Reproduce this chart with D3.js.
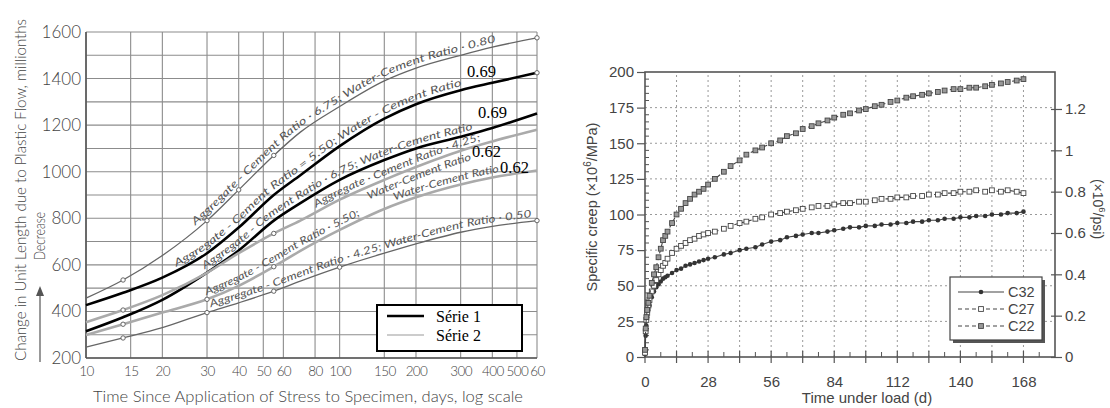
<!DOCTYPE html>
<html><head><meta charset="utf-8">
<script src="https://cdn.jsdelivr.net/npm/d3@7"></script>
<style>body{margin:0;background:#fff}svg{display:block}</style>
</head><body>
<svg id="c" width="1110" height="408"></svg>
<script>
// ================= LEFT CHART DATA =================
const leftDays = [10, 14, 20, 30, 40, 55, 70, 100, 150, 200, 300, 400, 600];
const agg675_wc080 = [457, 535, 640, 790, 922, 1070, 1170, 1280, 1390, 1445, 1500, 1535, 1575];
const agg550_wc069 = [427, 480, 545, 650, 760, 900, 985, 1110, 1228, 1290, 1350, 1382, 1425];
const agg675_wc069 = [315, 375, 450, 567, 662, 790, 865, 965, 1050, 1100, 1150, 1188, 1250];
const agg425_wc062 = [354, 406, 470, 566, 650, 735, 790, 880, 965, 1020, 1090, 1130, 1180];
const agg550_wc062 = [299, 345, 395, 452, 510, 592, 660, 750, 840, 890, 945, 975, 1005];
const agg425_wc050 = [247, 286, 330, 395, 437, 487, 530, 590, 650, 690, 740, 765, 790];
const leftXTicks = [10, 15, 20, 30, 40, 50, 60, 80, 100, 150, 200, 300, 400, 500, 600];
const leftXTickLabels = ["10", "15", "20", "30", "40", "50", "60", "80", "100", "150", "200", "300", "400", "500", "60"];
const leftYTicks = [200, 400, 600, 800, 1000, 1200, 1400, 1600];
const leftYGrid = [200, 300, 400, 500, 600, 700, 800, 900, 1000, 1100, 1200, 1300, 1400, 1500, 1600];
const legendLeft = ["Série 1", "Série 2"];

// ================= RIGHT CHART DATA =================
const creepDays = [0, 0.3, 0.6, 1, 1.5, 2, 3, 4, 5, 6, 7, 8, 9, 10, 12, 14, 16, 18, 20, 22, 24, 26, 28, 31, 35, 38, 42, 45, 49, 52, 56, 60, 63, 67, 70, 74, 77, 81, 84, 88, 91, 95, 98, 102, 105, 109, 112, 116, 119, 123, 126, 130, 133, 137, 140, 144, 147, 151, 154, 158, 161, 165, 168];
const creepC32 = [2, 15, 22, 28, 33, 36, 42, 46, 49, 51, 53, 55, 56, 57, 59, 61, 62, 64, 65, 66, 67, 68, 69, 70, 72, 73, 75, 76, 77, 79, 81, 82, 84, 85, 86, 87, 87, 88, 89, 90, 91, 91, 92, 92, 93, 93, 94, 94, 95, 95, 96, 96, 97, 97, 98, 98, 99, 99, 100, 100, 101, 101, 102];
const creepC27 = [3, 18, 26, 31, 36, 40, 46, 50, 54, 58, 61, 64, 66, 69, 73, 76, 78, 80, 82, 83, 85, 86, 87, 88, 90, 92, 94, 95, 97, 98, 100, 101, 102, 103, 104, 105, 106, 106, 107, 108, 108, 109, 109, 110, 111, 111, 112, 112, 113, 113, 114, 114, 115, 115, 116, 116, 117, 116, 117, 116, 117, 116, 115];
const creepC22 = [5, 20, 28, 33, 38, 43, 52, 58, 63, 70, 76, 82, 85, 88, 94, 100, 104, 108, 111, 114, 116, 118, 121, 125, 130, 134, 138, 142, 145, 147, 150, 152, 155, 157, 160, 162, 164, 166, 168, 170, 171, 173, 174, 176, 177, 179, 180, 182, 183, 184, 185, 186, 187, 188, 188, 189, 189, 190, 191, 192, 193, 194, 195];
const rightXTicks = [0, 28, 56, 84, 112, 140, 168];
const rightYTicks = [0, 25, 50, 75, 100, 125, 150, 175, 200];
const rightPsiTicks = [0, 0.2, 0.4, 0.6, 0.8, 1, 1.2];
const rightSeriesNames = ["C32", "C27", "C22"];

// ================= DRAW =================
const svg = d3.select("#c");
const gothic = "Lato, 'DejaVu Sans', sans-serif";
const gothicW = 300;
const gothicC = "#444";

// ---------- LEFT ----------
const xL = d3.scaleLog().domain([10, 600]).range([86, 537]);
const yL = d3.scaleLinear().domain([200, 1600]).range([358, 32]);
const L = svg.append("g");

L.selectAll("line.vg").data(leftXTicks).join("line")
  .attr("x1", d => xL(d)).attr("x2", d => xL(d)).attr("y1", yL(200)).attr("y2", yL(1600))
  .attr("stroke", "#8c8c8c").attr("stroke-width", 1.1);
L.selectAll("line.hg").data(leftYGrid).join("line")
  .attr("x1", xL(10)).attr("x2", xL(600)).attr("y1", d => yL(d)).attr("y2", d => yL(d))
  .attr("stroke", "#8c8c8c").attr("stroke-width", 1.1);
// frame
L.append("line").attr("x1", xL(10)).attr("x2", xL(10)).attr("y1", yL(1600)).attr("y2", yL(200)).attr("stroke", "#555").attr("stroke-width", 1.6);
L.append("line").attr("x1", xL(10)).attr("x2", xL(600)).attr("y1", yL(200)).attr("y2", yL(200)).attr("stroke", "#555").attr("stroke-width", 1.6);

const axYL = L.append("g").attr("transform", `translate(${xL(10)},0)`)
  .call(d3.axisLeft(yL).tickValues(leftYTicks).tickSize(0).tickPadding(5).tickFormat(d3.format("d")));
axYL.select(".domain").remove();
axYL.selectAll("text").attr("font-family", gothic).attr("font-weight", gothicW).attr("font-size", 17).attr("fill", gothicC);

const axXL = L.append("g").attr("transform", `translate(0,${yL(200)})`)
  .call(d3.axisBottom(xL).tickValues(leftXTicks).tickSize(0).tickPadding(8).tickFormat((d, i) => leftXTickLabels[i]));
axXL.select(".domain").remove();
axXL.selectAll("text").attr("font-family", gothic).attr("font-weight", gothicW).attr("font-size", 13.5)
  .attr("letter-spacing", -0.6).attr("fill", gothicC);

L.append("text").attr("x", 308).attr("y", 402).attr("text-anchor", "middle")
  .attr("font-family", gothic).attr("font-weight", gothicW).attr("font-size", 15).attr("fill", gothicC)
  .attr("textLength", 430).attr("lengthAdjust", "spacingAndGlyphs")
  .text("Time Since Application of Stress to Specimen, days, log scale");
L.append("text").attr("transform", "translate(26,190) rotate(-90)").attr("text-anchor", "middle")
  .attr("font-family", gothic).attr("font-weight", gothicW).attr("font-size", 15).attr("fill", gothicC)
  .attr("textLength", 342).attr("lengthAdjust", "spacingAndGlyphs")
  .text("Change in Unit Length due to Plastic Flow, millionths");
L.append("text").attr("transform", "translate(45,236) rotate(-90)").attr("text-anchor", "middle")
  .attr("font-family", gothic).attr("font-weight", gothicW).attr("font-size", 15).attr("fill", gothicC)
  .attr("textLength", 48).attr("lengthAdjust", "spacingAndGlyphs")
  .text("Decrease");
L.append("line").attr("x1", 40).attr("x2", 40).attr("y1", 362).attr("y2", 290).attr("stroke", "#555").attr("stroke-width", 1.2);
L.append("path").attr("d", "M36,296 L40,286 L44,296 Z").attr("fill", "#555");

const curves = [
  {vals: agg675_wc080, color: "#666", w: 1.3, marks: [14, 30, 40, 55, 600],
   labels: [{t: "Aggregate - Cement Ratio · 6.75; Water-Cement Ratio · 0.80", x0: 198, x1: 497, dy: -4}]},
  {vals: agg550_wc069, color: "#000", w: 2.6, marks: [600],
   labels: [{t: "Aggregate - Cement Ratio = 5.50; Water - Cement Ratio", x0: 178, x1: 463, dy: -4}]},
  {vals: agg675_wc069, color: "#000", w: 2.6, marks: [],
   labels: [{t: "Aggregate - Cement Ratio · 6.75; Water-Cement Ratio", x0: 207, x1: 474, dy: -4}]},
  {vals: agg425_wc062, color: "#aaa", w: 2.6, marks: [14, 55],
   labels: [{t: "Aggregate · Cement Ratio · 4.25;", x0: 318, x1: 482, dy: -4},
            {t: "Water-Cement Ratio", x0: 364, x1: 468, dy: 12}]},
  {vals: agg550_wc062, color: "#aaa", w: 2.6, marks: [14, 30, 55],
   labels: [{t: "Aggregate - Cement Ratio · 5.50;", x0: 208, x1: 362, dy: -4},
            {t: "Water-Cement Ratio", x0: 396, x1: 500, dy: -4}]},
  {vals: agg425_wc050, color: "#666", w: 1.3, marks: [14, 30, 55, 100, 600],
   labels: [{t: "Aggregate - Cement Ratio · 4.25; Water-Cement Ratio · 0.50", x0: 212, x1: 532, dy: -4}]}
];
const lineL = d3.line().x(d => xL(d[0])).y(d => yL(d[1])).curve(d3.curveMonotoneX);
curves.forEach((c, ci) => {
  const pts = leftDays.map((d, i) => [d, c.vals[i]]);
  const p = L.append("path").attr("id", "cv" + ci).attr("d", lineL(pts))
    .attr("fill", "none").attr("stroke", c.color).attr("stroke-width", c.w);
  const node = p.node();
  const total = node.getTotalLength();
  const lenAt = x => { let a = 0, b = total; for (let k = 0; k < 40; k++) { const m = (a + b) / 2; if (node.getPointAtLength(m).x < x) a = m; else b = m; } return (a + b) / 2; };
  c.labels.forEach(lb => {
    const l0 = lenAt(lb.x0), l1 = lenAt(lb.x1);
    L.append("text").attr("font-family", gothic).attr("font-style", "italic").attr("font-weight", 400)
      .attr("font-size", 10.5).attr("fill", "#555").attr("dy", lb.dy)
      .append("textPath").attr("href", "#cv" + ci).attr("startOffset", l0)
      .attr("textLength", l1 - l0).attr("lengthAdjust", "spacingAndGlyphs").text(lb.t);
  });
  L.selectAll(null).data(pts.filter(p => c.marks.includes(p[0]))).join("circle")
    .attr("cx", d => xL(d[0])).attr("cy", d => yL(d[1])).attr("r", 2.2)
    .attr("fill", "#fff").attr("stroke", "#666").attr("stroke-width", 1);
});
// value annotations
[["0.69", 467, 77], ["0.69", 478, 118], ["0.62", 472, 157], ["0.62", 500, 173]].forEach(a => {
  L.append("text").attr("x", a[1]).attr("y", a[2]).attr("font-family", "'Liberation Serif', serif")
    .attr("font-size", 16.5).attr("fill", "#000").text(a[0]);
});
// legend
const lg = L.append("g");
lg.append("rect").attr("x", 377).attr("y", 305).attr("width", 145).attr("height", 46)
  .attr("fill", "#fff").attr("stroke", "#000").attr("stroke-width", 2);
legendLeft.forEach((s, i) => {
  lg.append("line").attr("x1", 387).attr("x2", 424).attr("y1", 316 + i * 19).attr("y2", 316 + i * 19)
    .attr("stroke", i === 0 ? "#000" : "#bbb").attr("stroke-width", i === 0 ? 2.4 : 1.6);
  lg.append("text").attr("x", 436).attr("y", 322 + i * 19).attr("font-family", "'Liberation Serif', serif")
    .attr("font-size", 16).attr("fill", "#000").text(s);
});

// ---------- RIGHT ----------
const xR = d3.scaleLinear().domain([0, 182]).range([645, 1055]);
const yR = d3.scaleLinear().domain([0, 200]).range([357, 72]);
const yR2 = d3.scaleLinear().domain([0, 200 / 145.04]).range([357, 72]);
const R = svg.append("g");
const arial = "'Liberation Sans', Arial, sans-serif";
const gridX = d3.range(14, 182, 14);
R.selectAll(null).data(gridX).join("line")
  .attr("x1", d => xR(d)).attr("x2", d => xR(d)).attr("y1", yR(0)).attr("y2", yR(200))
  .attr("stroke", "#999").attr("stroke-width", 1).attr("stroke-dasharray", "2,3");
R.selectAll(null).data(rightYTicks.filter(d => d > 0 && d < 200)).join("line")
  .attr("x1", xR(0)).attr("x2", xR(182)).attr("y1", d => yR(d)).attr("y2", d => yR(d))
  .attr("stroke", "#999").attr("stroke-width", 1).attr("stroke-dasharray", "2,3");
// frame
R.append("rect").attr("x", xR(0)).attr("y", yR(200)).attr("width", xR(182) - xR(0)).attr("height", yR(0) - yR(200))
  .attr("fill", "none").attr("stroke", "#555").attr("stroke-width", 1.6);
// minor ticks
R.selectAll(null).data(d3.range(5, 200, 5).filter(d => d % 25)).join("line")
  .attr("x1", xR(0)).attr("x2", xR(0) + 4).attr("y1", d => yR(d)).attr("y2", d => yR(d)).attr("stroke", "#555");
R.selectAll(null).data(d3.range(7, 182, 14)).join("line")
  .attr("x1", d => xR(d)).attr("x2", d => xR(d)).attr("y1", yR(0)).attr("y2", yR(0) - 5).attr("stroke", "#555");
R.selectAll(null).data(d3.range(0, 182, 14)).join("line")
  .attr("x1", d => xR(d)).attr("x2", d => xR(d)).attr("y1", yR(0) - 6).attr("y2", yR(0) + 6).attr("stroke", "#555").attr("stroke-width", 1.2);

const axYR = R.append("g").attr("transform", `translate(${xR(0)},0)`)
  .call(d3.axisLeft(yR).tickValues(rightYTicks).tickSize(8).tickPadding(3));
axYR.select(".domain").remove();
axYR.selectAll("line").attr("stroke", "#555").attr("stroke-width", 1.2);
axYR.selectAll("text").attr("font-family", arial).attr("font-size", 15).attr("fill", "#444");

const axXR = R.append("g").attr("transform", `translate(0,${yR(0)})`)
  .call(d3.axisBottom(xR).tickValues(rightXTicks).tickSize(0).tickPadding(19));
axXR.select(".domain").remove();
axXR.selectAll("text").attr("font-family", arial).attr("font-size", 15).attr("fill", "#444");

const axYR2 = R.append("g").attr("transform", `translate(${xR(182)},0)`)
  .call(d3.axisRight(yR2).tickValues(rightPsiTicks).tickSize(7).tickPadding(3).tickFormat(d3.format("~g")));
axYR2.select(".domain").remove();
axYR2.selectAll("line").attr("x1", -4).attr("stroke", "#555").attr("stroke-width", 1.2);
axYR2.selectAll("text").attr("font-family", arial).attr("font-size", 15).attr("fill", "#444");

R.append("text").attr("x", 867).attr("y", 403).attr("text-anchor", "middle")
  .attr("font-family", arial).attr("font-size", 15).attr("fill", "#444").text("Time under load (d)");
const tY = R.append("text").attr("transform", "translate(597,207) rotate(-90)").attr("text-anchor", "middle")
  .attr("font-family", arial).attr("font-size", 14.5).attr("fill", "#444");
tY.append("tspan").text("Specific creep (×10");
tY.append("tspan").attr("dy", -6).attr("font-size", 10).text("6");
tY.append("tspan").attr("dy", 6).text("/MPa)");
const tY2 = R.append("text").attr("transform", "translate(1093,209) rotate(90)").attr("text-anchor", "middle")
  .attr("font-family", arial).attr("font-size", 14).attr("fill", "#444");
tY2.append("tspan").text("(×10");
tY2.append("tspan").attr("dy", -6).attr("font-size", 9.5).text("6");
tY2.append("tspan").attr("dy", 6).text("/psi)");

const series = [
  {name: rightSeriesNames[0], vals: creepC32, dash: null, mark: "dot"},
  {name: rightSeriesNames[1], vals: creepC27, dash: "4,3", mark: "open"},
  {name: rightSeriesNames[2], vals: creepC22, dash: "4,3", mark: "half"}
];
const lineR = d3.line().x(d => xR(d[0])).y(d => yR(d[1]));
function drawMark(g, type, x, y) {
  if (type === "dot") {
    g.append("circle").attr("cx", x).attr("cy", y).attr("r", 2.3).attr("fill", "#333");
  } else {
    g.append("rect").attr("x", x - 2.4).attr("y", y - 2.4).attr("width", 4.8).attr("height", 4.8)
      .attr("fill", type === "half" ? "#999" : "#fff").attr("stroke", "#444").attr("stroke-width", 0.9);
  }
}
series.forEach(s => {
  const pts = creepDays.map((d, i) => [d, s.vals[i]]);
  R.append("path").attr("d", lineR(pts)).attr("fill", "none").attr("stroke", "#444")
    .attr("stroke-width", 1.1).attr("stroke-dasharray", s.dash);
  const mg = R.append("g");
  pts.forEach(p => drawMark(mg, s.mark, xR(p[0]), yR(p[1])));
});
// legend
const lr = R.append("g");
lr.append("rect").attr("x", 953).attr("y", 280).attr("width", 92).attr("height", 63).attr("fill", "#555");
lr.append("rect").attr("x", 950).attr("y", 277).attr("width", 92).attr("height", 63).attr("fill", "#fff").attr("stroke", "#444").attr("stroke-width", 1.2);
series.forEach((s, i) => {
  const y = 292 + i * 17;
  lr.append("line").attr("x1", 958).attr("x2", 1004).attr("y1", y).attr("y2", y).attr("stroke", "#444")
    .attr("stroke-width", 1.2).attr("stroke-dasharray", s.dash);
  drawMark(lr, s.mark, 981, y);
  lr.append("text").attr("x", 1008).attr("y", y + 5).attr("font-family", arial).attr("font-size", 14.5)
    .attr("fill", "#444").text(s.name);
});
</script>
</body></html>
